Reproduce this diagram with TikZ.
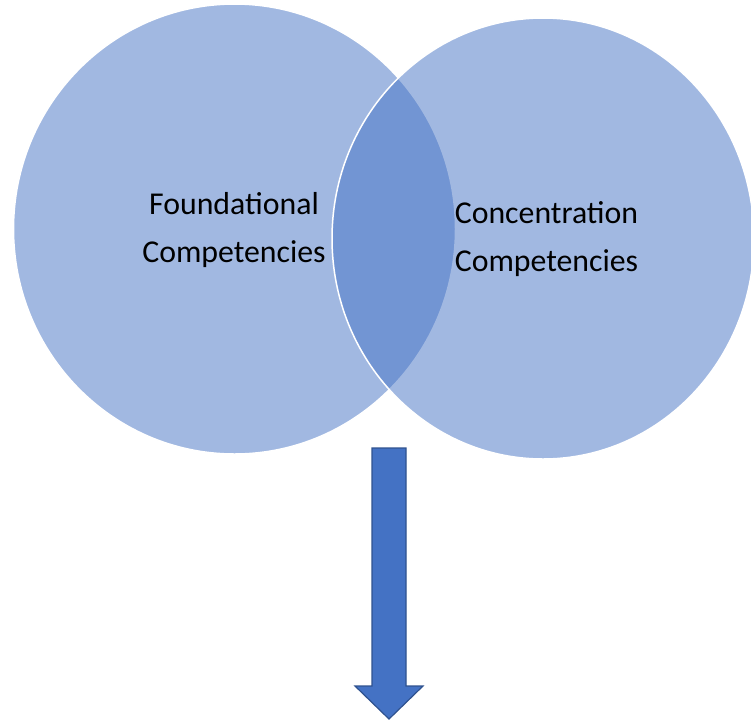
\documentclass[tikz,border=0pt]{standalone}
\usepackage{fontspec}
\setmainfont{Carlito}
\definecolor{accentblue}{HTML}{4472C4}
\definecolor{arrowline}{HTML}{2F528F}
\begin{document}
\begin{tikzpicture}[x=1pt,y=-1pt,
  vennset/.style={fill=accentblue,fill opacity=0.5,draw=white,draw opacity=1,line width=1.5pt},
  venntext/.style={text=black,font=\fontsize{31.8}{48}\selectfont,align=center,anchor=base},
  blockarrow/.style={fill=accentblue,draw=arrowline,line width=1.2pt,line join=miter}]
\useasboundingbox (0,0) rectangle (751,721);
\path[vennset] (234.5,229) ellipse [x radius=221, y radius=225];
\path[vennset] (543,238.5) ellipse [x radius=211, y radius=220.5];
\node[venntext] (found) at (234,262) {Foundational\\Competencies};
\node[venntext] (conc) at (546.5,271.5) {Concentration\\Competencies};
\path[blockarrow] (372,448) -- (406,448) -- (406,686) -- (423,686) -- (389,719) -- (355,686) -- (372,686) -- cycle;
\end{tikzpicture}
\end{document}
